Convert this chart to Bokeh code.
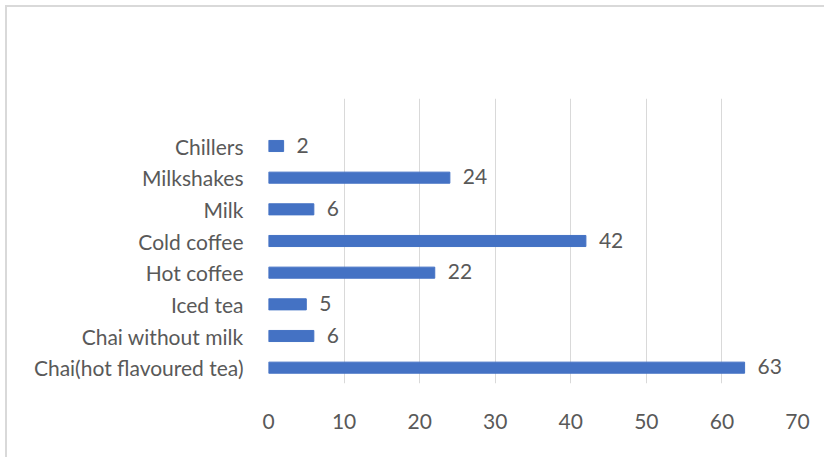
from bokeh.plotting import figure
from bokeh.models import FactorRange, Range1d, FixedTicker, ColumnDataSource, LabelSet
from bokeh.core.properties import value
from bokeh.embed import file_html
from bokeh.resources import INLINE

categories = ["Chai(hot flavoured tea)", "Chai without milk", "Iced tea", "Hot coffee",
              "Cold coffee", "Milk", "Milkshakes", "Chillers"]
values = [63, 6, 5, 22, 42, 6, 24, 2]
x_ticks = [0, 10, 20, 30, 40, 50, 60, 70]

FONT = "Lato"
TXT = "#595959"
FS = "21px"

src = ColumnDataSource(dict(cat=categories, val=values, lab=[str(v) for v in values]))

p = figure(
    y_range=FactorRange(factors=categories + [" "]),
    x_range=Range1d(0, 70),
    frame_width=529, frame_height=285,
    min_border_left=261, min_border_top=91, min_border_right=27, min_border_bottom=74,
    output_backend="svg", toolbar_location=None,
    styles={"border-left": "2px solid #d9d9d9", "border-top": "2px solid #d9d9d9",
            "margin-left": "5px", "margin-top": "5px"},
)
p.hbar(y="cat", right="val", left=0, height=0.35, color="#4472C4", source=src)

labels = LabelSet(x="val", y="cat", text="lab", source=src, x_offset=13, y_offset=1,
                  text_align="left", text_baseline="middle",
                  text_font=value(FONT), text_font_size=FS, text_color=TXT)
p.add_layout(labels)

p.outline_line_color = None
p.ygrid.grid_line_color = None
p.xgrid.grid_line_color = "#d9d9d9"
p.xgrid.grid_line_width = 1
p.xaxis.ticker = FixedTicker(ticks=x_ticks)
for ax in (p.xaxis[0], p.yaxis[0]):
    ax.axis_line_color = None
    ax.major_tick_line_color = None
    ax.minor_tick_line_color = None
    ax.major_label_text_font = FONT
    ax.major_label_text_font_size = FS
    ax.major_label_text_color = TXT
p.xaxis.major_label_standoff = 24
p.yaxis.major_label_standoff = 19

open("out.html", "w").write(file_html(p, INLINE))
